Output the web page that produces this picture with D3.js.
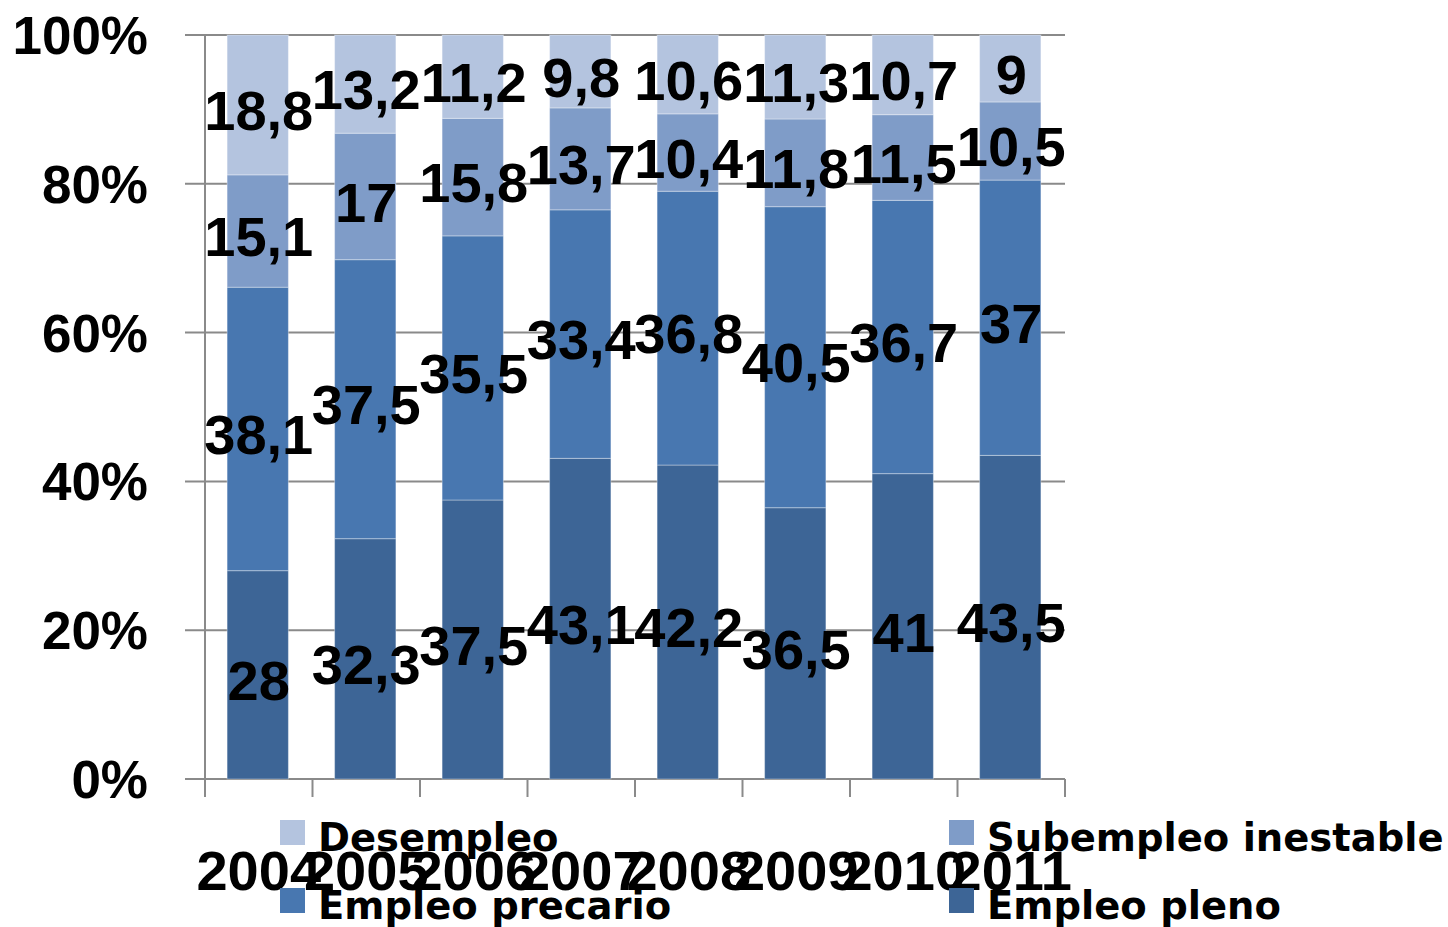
<!DOCTYPE html>
<html>
<head>
<meta charset="utf-8">
<script src="https://cdn.jsdelivr.net/npm/d3@7"></script>
<style>
  html, body { margin: 0; padding: 0; background: #fff; }
  svg text { font-family: "Liberation Sans", Arial, sans-serif; font-weight: bold; fill: #000; }
  .legend text { font-family: "DejaVu Sans", sans-serif; }
</style>
</head>
<body>
<div id="chart"></div>
<script>
// data
const years     = ["2004", "2005", "2006", "2007", "2008", "2009", "2010", "2011"];
const pleno     = [28, 32.3, 37.5, 43.1, 42.2, 36.5, 41, 43.5];
const precario  = [38.1, 37.5, 35.5, 33.4, 36.8, 40.5, 36.7, 37];
const subempleo = [15.1, 17, 15.8, 13.7, 10.4, 11.8, 11.5, 10.5];
const desempleo = [18.8, 13.2, 11.2, 9.8, 10.6, 11.3, 10.7, 9];
const yTicks    = [0, 0.2, 0.4, 0.6, 0.8, 1];

// stacking order bottom -> top
const seriesKeys   = ["Empleo pleno", "Empleo precario", "Subempleo inestable", "Desempleo"];
const seriesValues = [pleno, precario, subempleo, desempleo];
const seriesColors = ["#3d6596", "#4877b0", "#7f9cc8", "#b4c4df"];

// legend layout order (row-major, 2 columns)
const legendOrder = ["Desempleo", "Subempleo inestable", "Empleo precario", "Empleo pleno"];

const W = 1448, H = 927;
const margin = { top: 35, right: 383, bottom: 148, left: 205 };
const width  = W - margin.left - margin.right;   // 860
const height = H - margin.top - margin.bottom;   // 744

const rows = years.map((yr, i) => {
  const r = { year: yr };
  seriesKeys.forEach((k, j) => r[k] = seriesValues[j][i]);
  return r;
});

const stack = d3.stack().keys(seriesKeys).offset(d3.stackOffsetExpand);
const stacked = stack(rows);

const color = d3.scaleOrdinal().domain(seriesKeys).range(seriesColors);

const x = d3.scaleBand().domain(years).range([0, width]).padding(0);
const y = d3.scaleLinear().domain([0, 1]).range([height, 0]);

const barW = x.bandwidth() * 0.57;
const barOff = (x.bandwidth() - barW) / 2 - 1;

const svg = d3.select("#chart").append("svg")
  .attr("width", W)
  .attr("height", H);

const g = svg.append("g")
  .attr("transform", "translate(" + margin.left + "," + margin.top + ")");

// gridlines + y tick marks
g.append("g")
  .attr("class", "grid")
  .selectAll("line")
  .data(yTicks)
  .join("line")
  .attr("x1", -20)
  .attr("x2", width)
  .attr("y1", d => y(d))
  .attr("y2", d => y(d))
  .attr("stroke", "#8a8a8a")
  .attr("stroke-width", 2);

// y axis line
g.append("line")
  .attr("x1", 0).attr("x2", 0)
  .attr("y1", y(1)).attr("y2", y(0))
  .attr("stroke", "#8a8a8a")
  .attr("stroke-width", 2);

// x tick marks at category boundaries
const bounds = years.map(d => x(d)).concat([width]);
g.append("g")
  .selectAll("line")
  .data(bounds)
  .join("line")
  .attr("x1", d => d).attr("x2", d => d)
  .attr("y1", height).attr("y2", height + 18)
  .attr("stroke", "#8a8a8a")
  .attr("stroke-width", 2);

// y tick labels
g.append("g")
  .selectAll("text")
  .data(yTicks)
  .join("text")
  .attr("x", -57)
  .attr("y", d => y(d))
  .attr("dy", "0.36em")
  .attr("text-anchor", "end")
  .style("font-size", "53px")
  .text(d3.format(".0%"));

// bars
const layer = g.selectAll(".layer")
  .data(stacked)
  .join("g")
  .attr("class", "layer")
  .attr("fill", d => color(d.key));

layer.selectAll("rect")
  .data(d => d)
  .join("rect")
  .attr("x", d => x(d.data.year) + barOff)
  .attr("width", barW)
  .attr("y", d => y(d[1]))
  .attr("height", d => y(d[0]) - y(d[1]))
  .attr("stroke", "rgba(255,255,255,0.35)")
  .attr("stroke-width", 1);

// data labels
const fmt = v => String(v).replace(".", ",");
stacked.forEach(s => {
  g.append("g")
    .selectAll("text")
    .data(s)
    .join("text")
    .attr("x", d => x(d.data.year) + x.bandwidth() / 2)
    .attr("y", d => (y(d[0]) + y(d[1])) / 2)
    .attr("dy", "0.45em")
    .attr("text-anchor", "middle")
    .style("font-size", "56px")
    .text(d => fmt(d.data[s.key]));
});

// legend
const legend = svg.append("g").attr("class", "legend");
const legX = [280, 949], legY = [820, 888];
legendOrder.forEach((k, i) => {
  const lx = legX[i % 2], ly = legY[Math.floor(i / 2)];
  legend.append("rect")
    .attr("x", lx).attr("y", ly)
    .attr("width", 25).attr("height", 25)
    .attr("fill", color(k));
  legend.append("text")
    .attr("x", lx + 38)
    .attr("y", ly + 31)
    .style("font-size", "38.5px")
    .text(k);
});

// x labels (drawn on top, overlapping the legend like the original)
g.append("g")
  .selectAll("text")
  .data(years)
  .join("text")
  .attr("x", d => x(d) + x.bandwidth() / 2)
  .attr("y", height + 111)
  .attr("text-anchor", "middle")
  .style("font-size", "56px")
  .text(d => d);
</script>
</body>
</html>
